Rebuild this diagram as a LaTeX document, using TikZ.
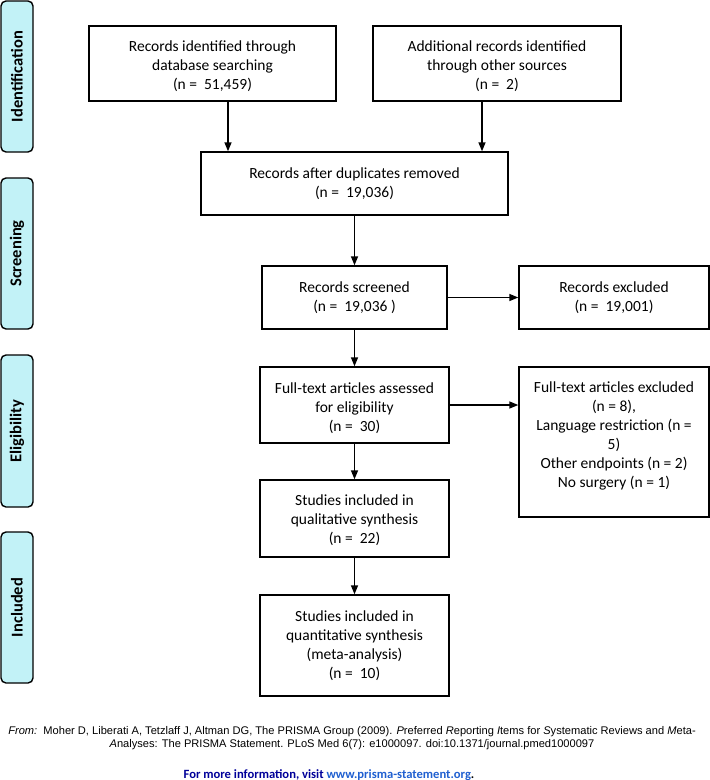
\documentclass[tikz,border=0pt]{standalone}
\usepackage{fontspec}
\setmainfont{Carlito}
\newfontfamily\arialfont{Liberation Sans}
\usetikzlibrary{arrows.meta}
\definecolor{sidecyan}{HTML}{C2F2F7}
\definecolor{navy}{HTML}{000099}
\definecolor{linkblue}{HTML}{1F5FD0}
\tikzset{
  box/.style={draw=black, line width=1.4pt, inner sep=0pt},
  boxtext/.style={align=center, font=\fontsize{15.5}{19}\selectfont, inner sep=0pt},
  side/.style={draw=black, line width=1.4pt, fill=sidecyan, rounded corners=5pt, inner sep=0pt},
  sidetext/.style={rotate=90, font=\fontsize{16.5}{18}\selectfont\bfseries},
  arr/.style={line width=1.4pt, -{Triangle[length=9pt,width=7pt]}},
  foot/.style={font=\arialfont\fontsize{11.1}{12.5}\selectfont, align=center}
}
\begin{document}
\begin{tikzpicture}[x=1pt,y=-1pt]
\useasboundingbox (0,0) rectangle (710,780);
% side labels
\node[side, minimum width=32pt, minimum height=151pt] (sid) at (17,76.5) {};
\node[sidetext] (sidt) at (sid.center) {Identification};
\node[side, minimum width=32pt, minimum height=151pt] (scr) at (17,253.5) {};
\node[sidetext] (scrt) at (scr.center) {Screening};
\node[side, minimum width=32pt, minimum height=152pt] (eli) at (17,431) {};
\node[sidetext] (elit) at (eli.center) {Eligibility};
\node[side, minimum width=32pt, minimum height=151pt] (inc) at (17,607.5) {};
\node[sidetext] (inct) at (inc.center) {Included};
% boxes
\node[box, minimum width=247pt, minimum height=75pt] (b1) at (212.5,63.5) {};
\node[boxtext, yshift=-3pt] (t1) at (b1.center) {Records identified through\\database searching\\(n =\ \ 51,459)};
\node[box, minimum width=248pt, minimum height=75pt] (b2) at (497,63.5) {};
\node[boxtext, yshift=-3pt] (t2) at (b2.center) {Additional records identified\\through other sources\\(n =\ \ 2)};
\node[box, minimum width=307pt, minimum height=63pt] (b3) at (354.5,183.5) {};
\node[boxtext] (t3) at (b3.center) {Records after duplicates removed\\(n =\ \ 19,036)};
\node[box, minimum width=185pt, minimum height=63pt] (b4) at (354.5,297.5) {};
\node[boxtext] (t4) at (b4.center) {Records screened\\(n =\ \ 19,036 )};
\node[box, minimum width=190pt, minimum height=63pt] (b5) at (614,297.5) {};
\node[boxtext] (t5) at (b5.center) {Records excluded\\(n =\ \ 19,001)};
\node[box, minimum width=189pt, minimum height=76pt] (b6) at (354.5,405) {};
\node[boxtext, yshift=-3pt] (t6) at (b6.center) {Full-text articles assessed\\for eligibility\\(n =\ \ 30)};
\node[box, minimum width=190pt, minimum height=150pt] (b7) at (614,442) {};
\node[boxtext, yshift=6pt] (t7) at (b7.center) {Full-text articles excluded\\(n = 8),\\Language restriction (n =\\5)\\Other endpoints (n = 2)\\No surgery (n = 1)};
\node[box, minimum width=189pt, minimum height=77pt] (b8) at (354.5,518.5) {};
\node[boxtext, yshift=-2pt] (t8) at (b8.center) {Studies included in\\qualitative synthesis\\(n =\ \ 22)};
\node[box, minimum width=189pt, minimum height=101pt] (b9) at (354.5,645.5) {};
\node[boxtext] (t9) at (b9.center) {Studies included in\\quantitative synthesis\\(meta-analysis)\\(n =\ \ 10)};
% arrows
\draw[arr] ([xshift=15.5pt]b1.south) -- ([xshift=15.5pt]b1.south |- b3.north);
\draw[arr] ([xshift=-15pt]b2.south) -- ([xshift=-15pt]b2.south |- b3.north);
\draw[arr] (b3.south) -- (b4.north);
\draw[arr] (b4.east) -- (b5.west);
\draw[arr] (b4.south) -- (b6.north);
\draw[arr] (b6.east) -- (b6.east -| b7.west);
\draw[arr] (b6.south) -- (b8.north);
\draw[arr] (b8.south) -- (b9.north);
% footer
\node[foot, anchor=north] (ft) at (352,723) {\textit{From:}\ \ Moher D, Liberati A, Tetzlaff J, Altman DG, The PRISMA Group (2009). \textit{P}referred \textit{R}eporting \textit{I}tems for \textit{S}ystematic Reviews and \textit{M}eta-\\\textit{A}nalyses: The PRISMA Statement. PLoS Med 6(7): e1000097. doi:10.1371/journal.pmed1000097};
\node[font=\fontsize{12.6}{14}\selectfont\bfseries, anchor=base] (more) at (329,778) {\textcolor{navy}{For more information, visit }\textcolor{linkblue}{\underline{www.prisma-statement.org}}.};
\end{tikzpicture}
\end{document}
